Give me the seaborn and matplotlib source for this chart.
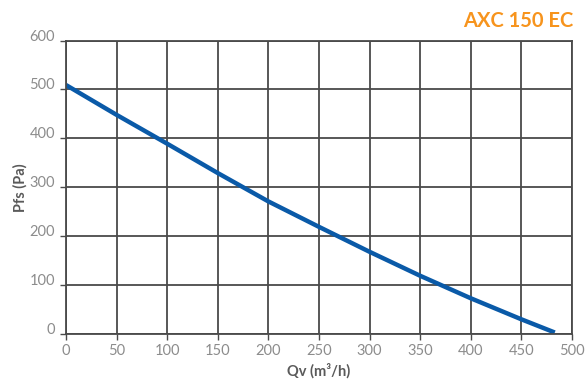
import pandas as pd
import matplotlib.pyplot as plt
import seaborn as sns

# fan curve
flow = [0, 50, 100, 150, 200, 250, 300, 350, 400, 450, 483]
pressure = [509, 448, 389, 329, 271, 219, 168, 119, 73, 30, 3]
x_ticks = [0, 50, 100, 150, 200, 250, 300, 350, 400, 450, 500]
y_ticks = [0, 100, 200, 300, 400, 500, 600]

sns.set_style("white")
plt.rcParams['font.family'] = ['Lato', 'DejaVu Sans']

df = pd.DataFrame({'Qv': flow, 'Pfs': pressure})

fig = plt.figure(figsize=(5.86, 3.85), dpi=100)
ax = fig.add_axes([0.1126, 0.1325, 0.8635, 0.7623])

sns.lineplot(x='Qv', y='Pfs', data=df, ax=ax, color='#0a5aa8', linewidth=3.2,
             solid_capstyle='butt')

ax.set_xlim(0, 500)
ax.set_ylim(0, 600)
ax.set_xticks(x_ticks)
ax.set_yticks(y_ticks)
ax.grid(True, color='#4a4a4a', linewidth=1.3)
ax.set_axisbelow(True)
for s in ax.spines.values():
    s.set_color('#4a4a4a')
    s.set_linewidth(1.3)

ax.tick_params(axis='both', colors='#4a4a4a', labelcolor='#8c8c8c',
               labelsize=10.5, length=4, width=1, direction='out', left=True, bottom=True)
ax.tick_params(axis='x', pad=3)
ax.tick_params(axis='y', pad=4)
# y labels sit on top of their grid line
for lbl in ax.get_yticklabels():
    lbl.set_verticalalignment('baseline')

ax.set_xlabel('Qv (m³/h)', fontsize=10.5, fontweight='bold', color='#5a5a5a', labelpad=4)
ax.set_ylabel('Pfs (Pa)', fontsize=10.5, fontweight='bold', color='#5a5a5a', labelpad=1)

fig.text(0.978, 0.945, 'AXC 150 EC', ha='right', va='center', fontsize=14.5,
         fontweight='bold', color='#f7941d')

plt.savefig('out.png', dpi=100)
